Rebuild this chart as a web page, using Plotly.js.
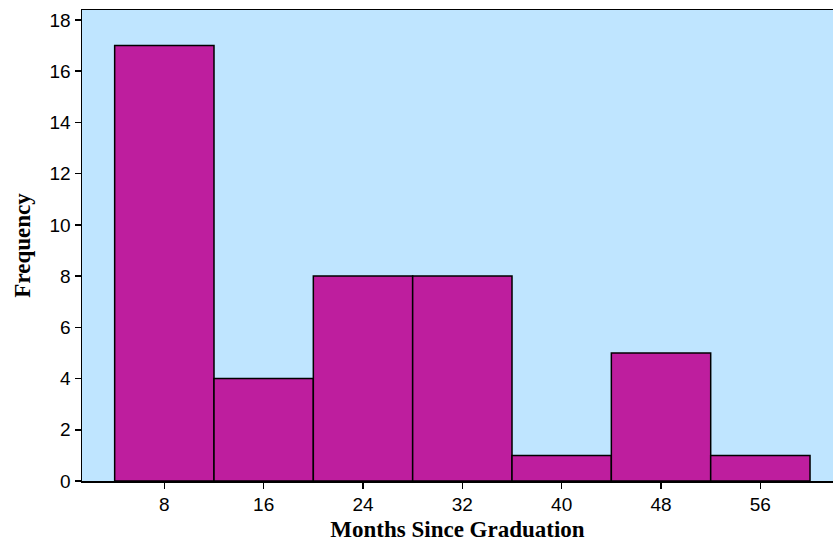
<!DOCTYPE html>
<html>
<head>
<meta charset="utf-8">
<script src="https://cdn.plot.ly/plotly-3.0.1.min.js"></script>
<style>html,body{margin:0;padding:0;background:#fff;}#chart{width:833px;height:544px;}</style>
</head>
<body>
<div id="chart"></div>
<script>
const binCenters = [8, 16, 24, 32, 40, 48, 56];
const frequencies = [17, 4, 8, 8, 1, 5, 1];
const xTickVals = [8, 16, 24, 32, 40, 48, 56];
const yTickVals = [0, 2, 4, 6, 8, 10, 12, 14, 16, 18];

const trace = {
  type: 'bar',
  x: binCenters,
  y: frequencies,
  width: 8,
  marker: {color: '#BE1E9E', line: {color: '#000', width: 1.5}},
  hoverinfo: 'x+y'
};

const layout = {
  width: 833, height: 544,
  margin: {l: 82, r: 0, t: 10, b: 63},
  paper_bgcolor: '#ffffff',
  plot_bgcolor: '#BFE5FF',
  showlegend: false,
  bargap: 0,
  xaxis: {
    range: [1.37, 61.85],
    tickvals: xTickVals,
    ticktext: xTickVals.map(String),
    ticks: 'outside', ticklen: 6, tickwidth: 1.5, tickcolor: '#000',
    showline: true, linecolor: '#000', linewidth: 1.5, mirror: true,
    showgrid: false, zeroline: false,
    tickfont: {family: 'Liberation Sans', size: 19, color: '#000'},
    title: {text: 'Months Since Graduation', standoff: 6,
      font: {family: 'Liberation Serif', size: 23, color: '#000', weight: 'bold'}}
  },
  yaxis: {
    range: [0, 18.39],
    tickvals: yTickVals,
    ticks: 'outside', ticklen: 6, tickwidth: 1.5, tickcolor: '#000',
    showline: true, linecolor: '#000', linewidth: 1.5,
    showgrid: false, zeroline: false,
    tickfont: {family: 'Liberation Sans', size: 19, color: '#000'},
    title: {text: 'Frequency', standoff: 12,
      font: {family: 'Liberation Serif', size: 23, color: '#000', weight: 'bold'}}
  }
};

Plotly.newPlot('chart', [trace], layout, {displayModeBar: false, staticPlot: true});
</script>
</body>
</html>
